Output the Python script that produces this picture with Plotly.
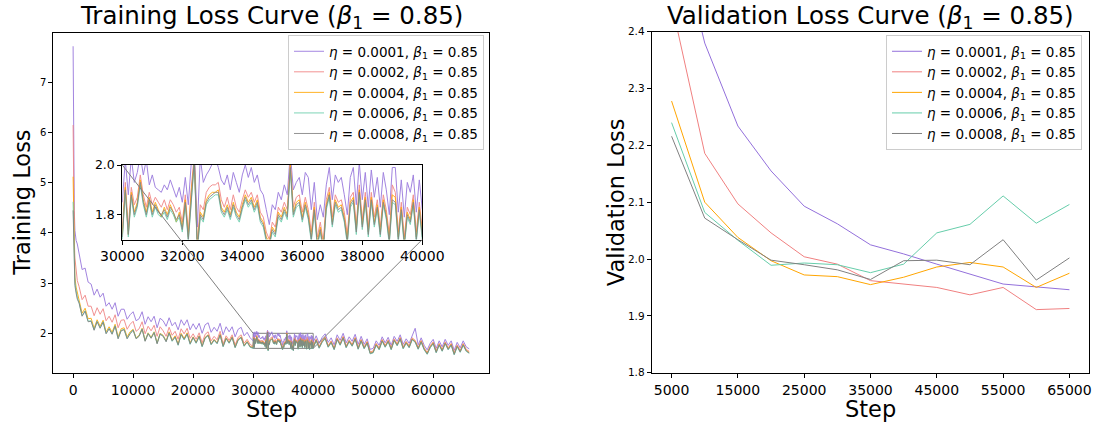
import plotly.graph_objects as go

# ---------------- data ----------------
learning_rates = ["0.0001", "0.0002", "0.0004", "0.0006", "0.0008"]
beta1 = "0.85"
colors = ["#9370DB", "#F08080", "#FFA500", "#66CDAA", "#808080"]

# training steps: dense at start, every 500, every 100 inside the zoomed window, every 500 after
train_steps = ([0, 100, 200, 300, 500, 700] + list(range(1000, 30000, 500))
               + list(range(30000, 40001, 100)) + list(range(40500, 66001, 500)))

train_lr_0001 = [
    7.72, 5.20, 4.45, 4.05, 3.85, 3.78,
    3.60, 3.27, 3.30, 3.02, 2.98, 2.76, 2.88, 2.72, 2.80, 2.54,
    2.61, 2.48, 2.61, 2.34, 2.48, 2.48, 2.28, 2.37, 2.43, 2.25,
    2.29, 2.43, 2.18, 2.33, 2.23, 2.34, 2.11, 2.30, 2.25, 2.14,
    2.31, 2.15, 2.22, 2.07, 2.27, 2.16, 2.27, 2.07, 2.19, 2.08,
    2.20, 2.00, 2.17, 2.21, 2.02, 2.12, 2.04, 2.20, 1.97, 2.13,
    2.03, 2.13, 1.93, 2.08, 2.12, 1.95, 2.02, 1.91,
    1.85, 2.02, 1.88, 2.03, 1.93, 1.97, 2.04, 1.96, 2.02, 1.92,
    1.96, 1.91, 1.90, 1.89, 1.92, 1.90, 1.94, 1.90, 1.87, 1.91,
    1.85, 1.95, 1.84, 2.01, 2.06, 1.75, 2.03, 1.93, 1.96, 1.98,
    2.01, 2.03, 1.99, 1.94, 1.92, 1.96, 1.90, 1.97, 1.93, 1.89,
    1.96, 2.00, 1.95, 1.99, 1.93, 1.96, 1.90, 1.88, 1.82, 1.76,
    1.84, 1.82, 1.89, 1.86, 1.92, 1.88, 2.05, 1.90, 1.93, 1.95,
    1.88, 1.97, 1.95, 1.82, 1.93, 1.78, 1.84, 1.79, 1.92, 1.99,
    1.86, 1.96, 1.93, 1.95, 1.88, 1.80, 1.95, 1.99, 1.84, 2.01,
    1.86, 1.97, 1.83, 1.98, 1.87, 1.95, 1.83, 1.97, 1.90, 1.80,
    1.99, 1.99, 1.81, 1.94, 1.79, 1.93, 1.89, 1.96, 1.81, 1.94,
    1.82,
    1.95, 1.80, 1.92, 1.99, 1.82, 1.91, 1.77, 1.97, 1.86, 2.00,
    1.81, 1.93, 1.84, 1.98, 1.78, 1.94, 1.78, 1.89, 1.68, 1.70,
    1.85, 1.76, 1.93, 1.81, 1.92, 1.76, 1.94, 1.84, 1.97, 1.78,
    1.89, 1.80, 1.96, 2.10, 1.77, 1.91, 1.76, 1.67, 1.80, 1.88,
    1.70, 1.85, 1.73, 1.88, 1.76, 1.85, 1.66, 1.82, 1.71, 1.85,
    1.73, 1.69,
]

train_lr_0002 = [
    6.15, 4.55, 3.85, 3.50, 3.22, 3.05,
    2.93, 2.67, 2.76, 2.54, 2.54, 2.35, 2.51, 2.38, 2.49, 2.25,
    2.34, 2.22, 2.37, 2.11, 2.26, 2.27, 2.08, 2.18, 2.24, 2.04,
    2.09, 2.23, 1.99, 2.14, 2.05, 2.16, 1.94, 2.13, 2.05, 1.94,
    2.12, 1.96, 2.04, 1.88, 2.09, 1.99, 2.10, 1.90, 1.99, 1.88,
    2.01, 1.81, 1.98, 2.03, 1.85, 1.94, 1.87, 2.04, 1.79, 1.95,
    1.86, 1.97, 1.77, 1.92, 1.97, 1.80, 1.88, 1.78,
    1.74, 1.93, 1.75, 1.91, 1.84, 1.87, 1.96, 1.88, 1.83, 1.89,
    1.84, 1.87, 1.85, 1.83, 1.86, 1.82, 1.86, 1.84, 1.81, 1.83,
    1.77, 1.88, 1.73, 1.91, 2.04, 1.68, 1.84, 1.82, 1.89, 1.91,
    1.92, 1.92, 1.93, 1.86, 1.83, 1.87, 1.82, 1.88, 1.83, 1.81,
    1.86, 1.90, 1.87, 1.89, 1.85, 1.88, 1.81, 1.79, 1.73, 1.70,
    1.77, 1.75, 1.83, 1.81, 1.85, 1.82, 2.01, 1.83, 1.87, 1.88,
    1.81, 1.87, 1.82, 1.73, 1.85, 1.71, 1.77, 1.69, 1.86, 1.91,
    1.79, 1.88, 1.85, 1.86, 1.81, 1.72, 1.87, 1.89, 1.76, 1.92,
    1.78, 1.89, 1.75, 1.89, 1.79, 1.86, 1.75, 1.88, 1.82, 1.72,
    1.92, 1.89, 1.73, 1.85, 1.71, 1.83, 1.80, 1.88, 1.73, 1.85,
    1.74,
    1.89, 1.74, 1.86, 1.93, 1.76, 1.85, 1.71, 1.91, 1.80, 1.94,
    1.75, 1.87, 1.78, 1.92, 1.72, 1.88, 1.73, 1.84, 1.63, 1.65,
    1.80, 1.71, 1.88, 1.76, 1.87, 1.71, 1.89, 1.79, 1.92, 1.73,
    1.84, 1.75, 1.91, 1.86, 1.72, 1.86, 1.71, 1.62, 1.75, 1.83,
    1.65, 1.80, 1.68, 1.83, 1.71, 1.80, 1.61, 1.77, 1.66, 1.80,
    1.68, 1.64,
]

train_lr_0004 = [
    5.12, 4.05, 3.45, 3.12, 2.92, 2.80,
    2.66, 2.40, 2.50, 2.29, 2.30, 2.10, 2.27, 2.14, 2.26, 2.03,
    2.13, 2.02, 2.18, 1.93, 2.09, 2.11, 1.93, 2.03, 2.08, 1.91,
    1.96, 2.10, 1.86, 2.01, 1.92, 2.03, 1.81, 2.00, 1.96, 1.85,
    2.03, 1.87, 1.95, 1.79, 2.00, 1.90, 2.01, 1.81, 1.93, 1.82,
    1.95, 1.75, 1.92, 1.97, 1.79, 1.88, 1.81, 1.98, 1.75, 1.91,
    1.82, 1.93, 1.73, 1.88, 1.93, 1.76, 1.84, 1.74,
    1.72, 1.91, 1.72, 1.89, 1.81, 1.85, 1.94, 1.86, 1.81, 1.87,
    1.81, 1.85, 1.82, 1.79, 1.83, 1.80, 1.84, 1.81, 1.77, 1.81,
    1.75, 1.86, 1.71, 1.89, 2.02, 1.67, 1.81, 1.79, 1.86, 1.88,
    1.89, 1.89, 1.90, 1.83, 1.81, 1.84, 1.80, 1.85, 1.81, 1.79,
    1.84, 1.88, 1.85, 1.87, 1.83, 1.86, 1.79, 1.77, 1.71, 1.69,
    1.75, 1.73, 1.81, 1.79, 1.83, 1.80, 2.00, 1.81, 1.85, 1.86,
    1.79, 1.85, 1.80, 1.71, 1.83, 1.69, 1.75, 1.67, 1.84, 1.89,
    1.77, 1.86, 1.83, 1.84, 1.79, 1.70, 1.85, 1.87, 1.74, 1.90,
    1.76, 1.87, 1.73, 1.87, 1.77, 1.84, 1.73, 1.86, 1.80, 1.70,
    1.88, 1.87, 1.71, 1.83, 1.69, 1.81, 1.78, 1.86, 1.71, 1.83,
    1.72,
    1.87, 1.72, 1.84, 1.91, 1.74, 1.83, 1.69, 1.89, 1.78, 1.92,
    1.73, 1.85, 1.76, 1.90, 1.70, 1.86, 1.71, 1.82, 1.61, 1.63,
    1.78, 1.69, 1.86, 1.74, 1.85, 1.69, 1.87, 1.77, 1.90, 1.71,
    1.82, 1.73, 1.89, 1.84, 1.70, 1.84, 1.69, 1.60, 1.73, 1.81,
    1.63, 1.78, 1.66, 1.81, 1.69, 1.78, 1.59, 1.75, 1.64, 1.78,
    1.66, 1.62,
]

train_lr_0006 = [
    4.62, 3.85, 3.30, 3.02, 2.85, 2.72,
    2.61, 2.35, 2.45, 2.24, 2.25, 2.07, 2.24, 2.11, 2.23, 2.00,
    2.10, 1.99, 2.15, 1.90, 2.06, 2.08, 1.90, 2.00, 2.07, 1.90,
    1.95, 2.09, 1.85, 2.00, 1.91, 2.02, 1.80, 1.99, 1.95, 1.84,
    2.00, 1.84, 1.92, 1.76, 1.97, 1.87, 1.98, 1.78, 1.91, 1.80,
    1.93, 1.73, 1.90, 1.95, 1.77, 1.86, 1.79, 1.96, 1.73, 1.89,
    1.80, 1.91, 1.71, 1.86, 1.91, 1.74, 1.82, 1.72,
    1.70, 1.89, 1.71, 1.87, 1.79, 1.83, 1.92, 1.84, 1.79, 1.85,
    1.79, 1.83, 1.80, 1.79, 1.81, 1.78, 1.82, 1.80, 1.77, 1.79,
    1.73, 1.84, 1.69, 1.87, 2.01, 1.65, 1.79, 1.77, 1.84, 1.86,
    1.87, 1.88, 1.88, 1.81, 1.79, 1.82, 1.78, 1.83, 1.79, 1.77,
    1.82, 1.86, 1.83, 1.85, 1.81, 1.84, 1.77, 1.75, 1.69, 1.67,
    1.73, 1.71, 1.79, 1.77, 1.81, 1.78, 1.98, 1.79, 1.83, 1.84,
    1.77, 1.83, 1.78, 1.69, 1.81, 1.67, 1.73, 1.65, 1.82, 1.87,
    1.75, 1.84, 1.81, 1.82, 1.77, 1.68, 1.83, 1.85, 1.72, 1.88,
    1.74, 1.85, 1.71, 1.85, 1.75, 1.82, 1.71, 1.84, 1.78, 1.68,
    1.85, 1.84, 1.69, 1.81, 1.67, 1.79, 1.76, 1.84, 1.69, 1.81,
    1.70,
    1.85, 1.70, 1.82, 1.89, 1.72, 1.81, 1.67, 1.87, 1.76, 1.90,
    1.71, 1.83, 1.74, 1.88, 1.68, 1.84, 1.69, 1.80, 1.59, 1.61,
    1.76, 1.67, 1.84, 1.72, 1.83, 1.67, 1.85, 1.75, 1.88, 1.69,
    1.80, 1.71, 1.87, 1.82, 1.68, 1.82, 1.67, 1.58, 1.71, 1.79,
    1.61, 1.76, 1.64, 1.79, 1.67, 1.76, 1.57, 1.73, 1.62, 1.76,
    1.64, 1.60,
]

train_lr_0008 = [
    4.45, 3.70, 3.20, 2.95, 2.80, 2.68,
    2.60, 2.34, 2.44, 2.23, 2.24, 2.06, 2.23, 2.10, 2.22, 1.99,
    2.09, 1.98, 2.14, 1.89, 2.05, 2.07, 1.89, 1.99, 2.06, 1.89,
    1.94, 2.08, 1.84, 1.99, 1.90, 2.01, 1.79, 1.98, 1.94, 1.83,
    2.01, 1.85, 1.93, 1.77, 1.98, 1.88, 1.99, 1.79, 1.92, 1.81,
    1.94, 1.74, 1.91, 1.96, 1.78, 1.87, 1.80, 1.97, 1.74, 1.90,
    1.81, 1.92, 1.72, 1.87, 1.92, 1.75, 1.83, 1.73,
    1.71, 1.90, 1.72, 1.88, 1.80, 1.84, 1.93, 1.85, 1.80, 1.86,
    1.80, 1.84, 1.81, 1.80, 1.82, 1.79, 1.83, 1.81, 1.78, 1.80,
    1.74, 1.85, 1.70, 1.88, 2.02, 1.66, 1.80, 1.78, 1.85, 1.87,
    1.88, 1.89, 1.89, 1.82, 1.80, 1.83, 1.79, 1.84, 1.80, 1.78,
    1.83, 1.87, 1.84, 1.86, 1.82, 1.85, 1.78, 1.76, 1.70, 1.68,
    1.74, 1.72, 1.80, 1.78, 1.82, 1.79, 1.99, 1.80, 1.84, 1.85,
    1.78, 1.84, 1.79, 1.70, 1.82, 1.68, 1.74, 1.66, 1.83, 1.88,
    1.76, 1.85, 1.82, 1.83, 1.78, 1.69, 1.84, 1.86, 1.73, 1.89,
    1.75, 1.86, 1.72, 1.86, 1.76, 1.83, 1.72, 1.85, 1.79, 1.69,
    1.86, 1.85, 1.70, 1.82, 1.68, 1.80, 1.77, 1.85, 1.70, 1.82,
    1.71,
    1.86, 1.71, 1.83, 1.90, 1.73, 1.82, 1.68, 1.88, 1.77, 1.91,
    1.72, 1.84, 1.75, 1.89, 1.69, 1.85, 1.70, 1.81, 1.60, 1.62,
    1.77, 1.68, 1.85, 1.73, 1.84, 1.68, 1.86, 1.76, 1.89, 1.70,
    1.81, 1.72, 1.88, 1.83, 1.69, 1.83, 1.68, 1.59, 1.72, 1.80,
    1.62, 1.77, 1.65, 1.80, 1.68, 1.77, 1.58, 1.74, 1.63, 1.77,
    1.65, 1.61,
]

val_steps = [5000, 10000, 15000, 20000, 25000, 30000, 35000, 40000, 45000, 50000, 55000, 60000, 65000]
val_lr_0001 = [2.62, 2.380, 2.234, 2.155, 2.093, 2.062, 2.025, 2.009, 1.991, 1.974, 1.956, 1.951, 1.946]
val_lr_0002 = [2.45, 2.186, 2.097, 2.046, 2.004, 1.991, 1.962, 1.956, 1.950, 1.937, 1.950, 1.911, 1.913]
val_lr_0004 = [2.278, 2.100, 2.038, 1.997, 1.972, 1.969, 1.955, 1.968, 1.986, 1.994, 1.986, 1.950, 1.975]
val_lr_0006 = [2.240, 2.082, 2.033, 1.989, 1.993, 1.990, 1.976, 1.991, 2.046, 2.061, 2.111, 2.063, 2.096]
val_lr_0008 = [2.216, 2.072, 2.034, 1.998, 1.990, 1.981, 1.964, 1.997, 1.998, 1.990, 2.034, 1.963, 2.002]

train_series = [train_lr_0001, train_lr_0002, train_lr_0004, train_lr_0006, train_lr_0008]
val_series = [val_lr_0001, val_lr_0002, val_lr_0004, val_lr_0006, val_lr_0008]
for s in train_series:
    assert len(s) == len(train_steps), (len(s), len(train_steps))

zoom_x = [30000, 40000]
zoom_y = [1.7, 2.0]

train_xticks = [0, 10000, 20000, 30000, 40000, 50000, 60000]
train_yticks = [2, 3, 4, 5, 6, 7, 8]
val_xticks = [5000, 15000, 25000, 35000, 45000, 55000, 65000]
val_yticks = [1.8, 1.9, 2.0, 2.1, 2.2, 2.3, 2.4]
inset_xticks = [30000, 32000, 34000, 36000, 38000, 40000]
inset_yticks = [1.8, 2.0]

# ---------------- layout geometry ----------------
W, H = 1096, 427
FONT = "DejaVu Sans"

def px_x(p):
    return p / W

def px_y(p):
    return 1 - p / H

dom_x1 = [px_x(53.3), px_x(489.0)]
dom_y1 = [px_y(372.7), px_y(32.7)]
dom_x2 = [px_x(651.7), px_x(1089.3)]
dom_y2 = [px_y(372.7), px_y(31.7)]
dom_xi = [px_x(122.3), px_x(422.3)]
dom_yi = [px_y(239.5), px_y(165.0)]

rng_x1 = [-3300, 69300]
rng_y1 = [1.215, 7.99]
rng_x2 = [2000, 68000]
rng_y2 = [1.8, 2.4]

def label(lr):
    return f"<i>η</i> = {lr}, <i>β</i><sub>1</sub> = {beta1}"

fig = go.Figure()

for lr, col, ys in zip(learning_rates, colors, train_series):
    fig.add_trace(go.Scatter(x=train_steps, y=ys, mode="lines", name=label(lr),
                             line=dict(color=col, width=1), opacity=0.85,
                             xaxis="x", yaxis="y", legend="legend"))

zi = [i for i, s in enumerate(train_steps) if zoom_x[0] <= s <= zoom_x[1]]
for lr, col, ys in zip(learning_rates, colors, train_series):
    fig.add_trace(go.Scatter(x=[train_steps[i] for i in zi], y=[ys[i] for i in zi],
                             mode="lines", showlegend=False,
                             line=dict(color=col, width=1), opacity=0.85,
                             xaxis="x3", yaxis="y3"))

for lr, col, ys in zip(learning_rates, colors, val_series):
    fig.add_trace(go.Scatter(x=val_steps, y=ys, mode="lines", name=label(lr),
                             line=dict(color=col, width=1),
                             xaxis="x2", yaxis="y2", legend="legend2"))

axis_common = dict(showgrid=False, zeroline=False, showline=True, mirror=True,
                   linecolor="black", linewidth=1, ticks="outside", ticklen=4,
                   tickcolor="black", tickwidth=1, automargin=False)

fig.update_layout(
    template="none",
    width=W, height=H, autosize=False,
    margin=dict(l=0, r=0, t=0, b=0, pad=0),
    paper_bgcolor="white", plot_bgcolor="white",
    font=dict(family=FONT, color="black"),
    xaxis=dict(domain=dom_x1, range=rng_x1, tickvals=train_xticks,
               ticktext=[str(v) for v in train_xticks], tickfont=dict(size=14),
               anchor="y", **axis_common),
    yaxis=dict(domain=dom_y1, range=rng_y1, tickvals=train_yticks,
               ticktext=[str(v) for v in train_yticks], tickfont=dict(size=10),
               anchor="x", **axis_common),
    xaxis2=dict(domain=dom_x2, range=rng_x2, tickvals=val_xticks,
                ticktext=[str(v) for v in val_xticks], tickfont=dict(size=14),
                anchor="y2", **axis_common),
    yaxis2=dict(domain=dom_y2, range=rng_y2, tickvals=val_yticks,
                ticktext=[f"{v:.1f}" for v in val_yticks], tickfont=dict(size=10.5),
                anchor="x2", **axis_common),
    xaxis3=dict(domain=dom_xi, range=zoom_x, tickvals=inset_xticks,
                ticktext=[str(v) for v in inset_xticks], tickfont=dict(size=14),
                anchor="y3", **axis_common),
    yaxis3=dict(domain=dom_yi, range=zoom_y, tickvals=inset_yticks,
                ticktext=[f"{v:.1f}" for v in inset_yticks], tickfont=dict(size=12.5),
                anchor="x3", **axis_common),
    legend=dict(x=px_x(484), y=px_y(35), xanchor="right", yanchor="top",
                bgcolor="rgba(255,255,255,0.85)", bordercolor="#cccccc", borderwidth=1,
                font=dict(size=13.5, family=FONT), tracegroupgap=0),
    legend2=dict(x=px_x(1082), y=px_y(35), xanchor="right", yanchor="top",
                 bgcolor="rgba(255,255,255,0.85)", bordercolor="#cccccc", borderwidth=1,
                 font=dict(size=13.5, family=FONT), tracegroupgap=0),
)

def data_to_paper(v, rng, dom):
    return dom[0] + (v - rng[0]) / (rng[1] - rng[0]) * (dom[1] - dom[0])

# zoom rectangle on the main axes
fig.add_shape(type="rect", xref="x", yref="y", x0=zoom_x[0], x1=zoom_x[1],
              y0=zoom_y[0], y1=zoom_y[1], line=dict(color="#808080", width=1),
              layer="below")
# connector lines (inset upper-left -> rect upper-left, inset lower-right -> rect lower-right)
fig.add_shape(type="line", xref="paper", yref="paper",
              x0=dom_xi[0], y0=dom_yi[1],
              x1=data_to_paper(zoom_x[0], rng_x1, dom_x1), y1=data_to_paper(zoom_y[1], rng_y1, dom_y1),
              line=dict(color="#808080", width=1), layer="above")
fig.add_shape(type="line", xref="paper", yref="paper",
              x0=dom_xi[1], y0=dom_yi[0],
              x1=data_to_paper(zoom_x[1], rng_x1, dom_x1), y1=data_to_paper(zoom_y[0], rng_y1, dom_y1),
              line=dict(color="#808080", width=1), layer="above")

title_suffix = f" (<i>β</i><sub>1</sub> = {beta1})"
annos = [
    dict(text="Training Loss Curve" + title_suffix, x=(dom_x1[0] + dom_x1[1]) / 2, y=px_y(17),
         font=dict(size=24.5)),
    dict(text="Validation Loss Curve" + title_suffix, x=(dom_x2[0] + dom_x2[1]) / 2, y=px_y(17),
         font=dict(size=24.5)),
    dict(text="Step", x=(dom_x1[0] + dom_x1[1]) / 2, y=px_y(409), font=dict(size=22.5)),
    dict(text="Step", x=(dom_x2[0] + dom_x2[1]) / 2, y=px_y(409), font=dict(size=22.5)),
    dict(text="Training Loss", x=px_x(22), y=(dom_y1[0] + dom_y1[1]) / 2, textangle=-90,
         font=dict(size=22.5)),
    dict(text="Validation Loss", x=px_x(616), y=(dom_y2[0] + dom_y2[1]) / 2, textangle=-90,
         font=dict(size=22.5)),
]
for a in annos:
    fig.add_annotation(xref="paper", yref="paper", showarrow=False,
                       xanchor="center", yanchor="middle", **a)

fig.write_html("out.html", config={"displayModeBar": False},
               post_script="document.body.style.margin='0';document.body.style.overflow='hidden';")
